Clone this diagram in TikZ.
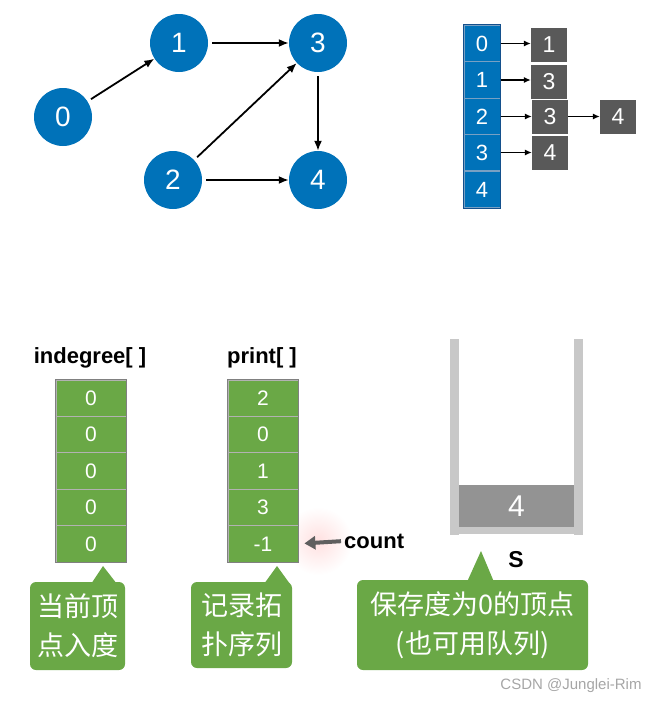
\documentclass[tikz,border=0pt]{standalone}
\usepackage{fontspec}
\setmainfont{Liberation Sans}
\newfontfamily\cjk{Noto Sans CJK SC}
\usetikzlibrary{arrows.meta}
\definecolor{nodeblue}{RGB}{0,114,185}
\definecolor{bluesep}{RGB}{120,160,195}
\definecolor{blueedge}{RGB}{20,80,140}
\definecolor{listgray}{RGB}{89,89,89}
\definecolor{cellgreen}{RGB}{106,168,70}
\definecolor{wallgray}{RGB}{200,200,200}
\definecolor{boxgray}{RGB}{147,147,147}
\definecolor{arrgray}{RGB}{95,95,95}
\newcommand\fsz[1]{\fontsize{#1}{#1}\selectfont}
\tikzset{
  gnode/.style={circle, fill=nodeblue, text=white, minimum size=58pt, inner sep=0pt, font=\fsz{28}},
  garrow/.style={line width=1.8pt, -{Latex[length=10pt,width=8pt]}, shorten <=4pt},
  bluecell/.style={rectangle, fill=nodeblue, draw=bluesep, line width=1pt, text=white, minimum width=36pt, minimum height=36.6pt, inner sep=0pt, font=\fsz{22}},
  graycell/.style={rectangle, fill=listgray, text=white, minimum width=36pt, minimum height=34pt, inner sep=0pt, font=\fsz{23}},
  larrow/.style={line width=1.2pt, -{Latex[length=7pt,width=6pt]}},
  greencell/.style={rectangle, fill=cellgreen, draw=gray!60, line width=0.8pt, text=white, minimum width=70pt, minimum height=36.4pt, inner sep=0pt, font=\fsz{21}},
  lbl/.style={font=\bfseries\fsz{22}, inner sep=0pt},
  callout/.style={rectangle, rounded corners=6pt, fill=cellgreen, text=white, align=center, inner sep=0pt, font=\cjk\fontsize{27}{39}\selectfont},
}
\begin{document}
\begin{tikzpicture}[x=1pt,y=-1pt]
\useasboundingbox (0,0) rectangle (662,704);

% graph
\node[gnode] (n0) at (63,117) {0};
\node[gnode] (n1) at (179,43) {1};
\node[gnode] (n2) at (173,180) {2};
\node[gnode] (n3) at (318,43) {3};
\node[gnode] (n4) at (318,180) {4};
\draw[garrow] (n0) -- (n1);
\draw[garrow] (n1) -- (n3);
\draw[garrow] (n2) -- (n3);
\draw[garrow] (n2) -- (n4);
\draw[garrow] (n3) -- (n4);

% adjacency list
\foreach \i/\y in {0/43.5,1/80,2/116.5,3/152.5,4/189.5}
  \node[bluecell] (a\i) at (482,\y) {\i};
\draw[blueedge, line width=0.8pt] (a0.north west) rectangle (a4.south east);
\node[graycell] (b0) at (549,45) {1};
\node[graycell] (b1) at (549,81.5) {3};
\node[graycell] (b2) at (550,116.5) {3};
\node[graycell] (b3) at (550,152.5) {4};
\node[graycell] (b4) at (618,116.5) {4};
\draw[larrow] (a0.east) -- (a0.east -| b0.west);
\draw[larrow] (a1.east) -- (a1.east -| b1.west);
\draw[larrow] (a2.east) -- (b2.west);
\draw[larrow] (a3.east) -- (b3.west);
\draw[larrow] (b2.east) -- (b4.west);

% glow behind count arrow
\shade[inner color=red!12, outer color=white] (318,541) circle (34);

% indegree and print columns
\node[lbl] (indl) at (90,358) {indegree[ ]};
\node[lbl] (prl) at (262,358) {print[ ]};
\foreach \i/\y in {0/398.2,1/434.6,2/471,3/507.4,4/543.8}
  \node[greencell] (ind\i) at (91,\y) {0};
\draw[gray, line width=0.9pt] (ind0.north west) rectangle (ind4.south east);
\foreach \i/\y/\v in {0/398.2/2,1/434.6/0,2/471/1,3/507.4/3,4/543.8/-1}
  \node[greencell] (pr\i) at (263,\y) {\v};
\draw[gray, line width=0.9pt] (pr0.north west) rectangle (pr4.south east);

% count pointer
\node[lbl, anchor=west] (cnt) at (344,541) {count};
\draw[arrgray, line width=4pt, -{Triangle[length=11pt,width=13pt]}, shorten <=3pt, shorten >=6pt] (cnt.west) -- (pr4.east);

% stack
\fill[wallgray] (450,339) rectangle (459,535);
\fill[wallgray] (574,339) rectangle (583,535);
\fill[wallgray] (459,527) rectangle (574,534);
\node[rectangle, fill=boxgray, text=white, minimum width=115pt, minimum height=42pt, inner sep=0pt, font=\fsz{30}] (stk) at (516.5,506) {4};
\node[lbl, font=\bfseries\fsz{23}] (slbl) at (516,560) {S};

% callouts
\node[callout, minimum width=95pt, minimum height=88pt] (c1) at (77.5,626) {当前顶\\点入度};
\fill[cellgreen] (91,584) -- (103,566) -- (117,584) -- cycle;
\node[callout, minimum width=101pt, minimum height=86pt] (c2) at (241.5,625) {记录拓\\扑序列};
\fill[cellgreen] (264,584) -- (277,566) -- (290,584) -- cycle;
\node[callout, minimum width=231pt, minimum height=90pt] (c3) at (472.5,625) {保存度为0的顶点\\(也可用队列)};
\fill[cellgreen] (467,582) -- (481,551) -- (494,582) -- cycle;

% watermark
\node[text=gray!70, font=\fsz{15}, inner sep=0pt] (wm) at (571,686) {CSDN @Junglei-Rim};
\end{tikzpicture}
\end{document}
